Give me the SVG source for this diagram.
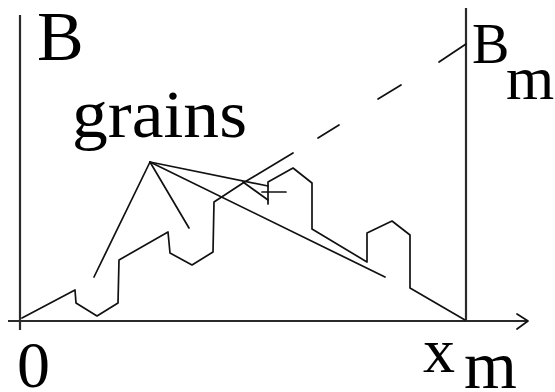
<svg xmlns="http://www.w3.org/2000/svg" width="555" height="392" viewBox="0 0 555 392">
<style>
.ax{stroke:#2a2a2a;stroke-width:2.2;fill:none}
.ln{stroke:#111;stroke-width:1.7;fill:none;stroke-linejoin:round;stroke-linecap:round}
.t{font-family:"Liberation Serif","Times New Roman",serif;fill:#000}
</style>
<rect width="555" height="392" fill="#fff"/>
<g id="axes">
<line class="ax" x1="20" y1="15" x2="20" y2="330"/>
<line class="ax" x1="8" y1="321" x2="528" y2="321"/>
<polyline class="ln" points="517,314 528,321 517,329"/>
<line class="ax" x1="466" y1="8" x2="466" y2="322"/>
</g>
<g id="connectors">
<polyline class="ln" points="22,318 75,290 76,303 97,316 118,303 119,260 168,232 170,253 192,265 213,252 214,202 243,183 293,153"/>
<line class="ln" x1="318" y1="138" x2="339" y2="125"/>
<line class="ln" x1="378" y1="99" x2="401" y2="85"/>
<line class="ln" x1="439" y1="62" x2="466" y2="44"/>
<polyline class="ln" points="268,204 268,182 293,168 312,183 312,229 367,262 367,233 392,221 410,235 410,288 465,320"/>
<line class="ln" x1="243" y1="182" x2="268" y2="200"/>
<line class="ln" x1="262" y1="192" x2="286" y2="192"/>
<line class="ln" x1="150" y1="162" x2="94" y2="277"/>
<line class="ln" x1="150" y1="162" x2="189" y2="228"/>
<line class="ln" x1="150" y1="162" x2="385" y2="277"/>
<line class="ln" x1="150" y1="162" x2="268" y2="186"/>
</g>
<g id="label-B"><text class="t" x="37" y="60" font-size="70">B</text></g>
<g id="label-grains"><text class="t" x="72" y="137" font-size="68" textLength="175" lengthAdjust="spacingAndGlyphs">grains</text></g>
<g id="label-Bm"><text class="t" x="472" y="63" font-size="56">B</text><text class="t" x="506" y="99" font-size="62">m</text></g>
<g id="label-0"><text class="t" x="17" y="387" font-size="66">0</text></g>
<g id="label-xm"><text class="t" x="423" y="372" font-size="64">x</text><text class="t" x="464" y="388" font-size="68">m</text></g>
</svg>
